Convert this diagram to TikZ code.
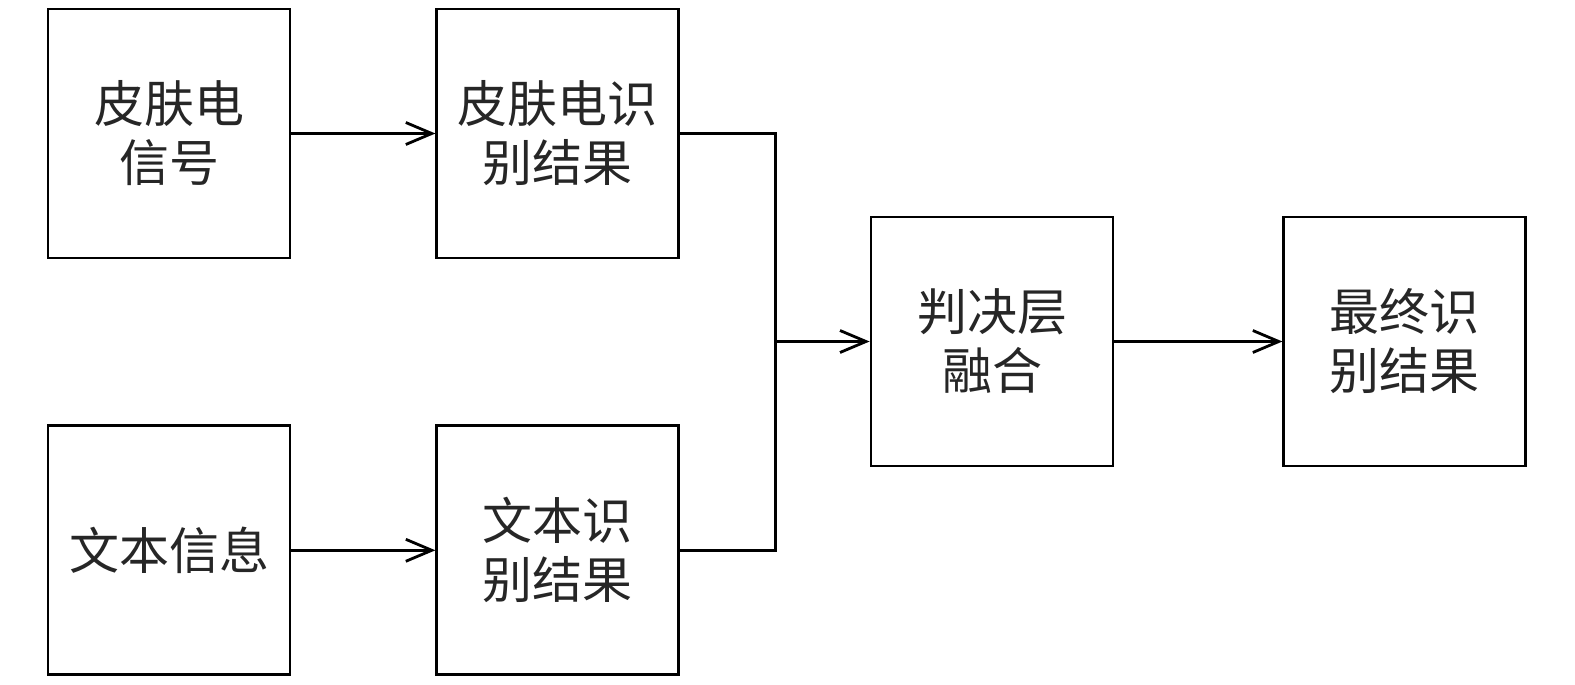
\documentclass[tikz,border=0pt]{standalone}
\usepackage{fontspec}
\newfontfamily\cjk{Noto Sans CJK SC}
\usetikzlibrary{arrows.meta,positioning}

\begin{document}
\begin{tikzpicture}[x=1pt,y=-1pt,line width=2.8pt,
	>={Straight Barb[length=26pt,width=22pt,line width=2.8pt]},
	block/.style={draw,minimum width=242pt,minimum height=249pt,inner sep=0pt,
		align=center,font=\cjk\fontsize{50}{59}\selectfont,text=black!85}]

	\useasboundingbox (0,0) rectangle (1575,685);

	\node[block] (gsr)       at (169,133.5) {皮肤电\\信号};
	\node[block] (gsrres)    [right=144pt of gsr] {皮肤电识\\别结果};
	\node[block] (text)      [below=165pt of gsr] {文本信息};
	\node[block] (textres)   [right=144pt of text] {文本识\\别结果};
	\node[block] (fusion)    at (992,341.5) {判决层\\融合};
	\node[block] (final)     [right=168pt of fusion] {最终识\\别结果};
	\coordinate (join) at (775.5,341.5);

	\draw[->] (gsr) -- (gsrres);
	\draw[->] (text) -- (textres);
	\draw (gsrres.east) -| (join) |- (textres.east);
	\draw[->] (join) -- (fusion);
	\draw[->] (fusion) -- (final);

\end{tikzpicture}
\end{document}
